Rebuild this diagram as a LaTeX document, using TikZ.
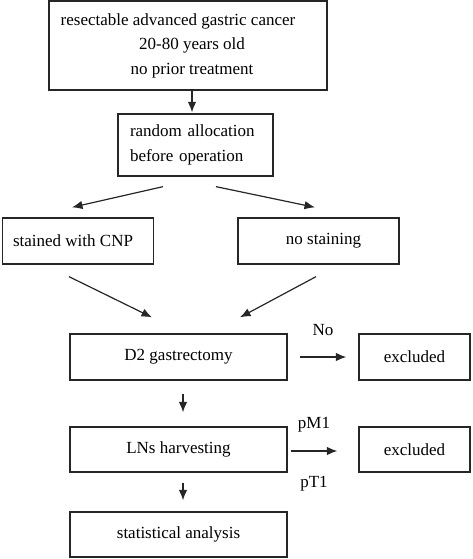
\documentclass[tikz,border=0pt]{standalone}
\usepackage{fontspec}
\setmainfont{Liberation Serif}
\usetikzlibrary{arrows.meta,positioning}

\begin{document}
\begin{tikzpicture}[x=1pt,y=-1pt,
    box/.style={draw=black!85,line width=1.3pt,inner sep=0pt,font=\fontsize{17}{24.5}\selectfont},
    lbl/.style={inner sep=0pt,font=\fontsize{17}{20}\selectfont},
    arr/.style={draw=black!85,line width=1.2pt,-{Latex[length=10.5pt,width=8.5pt]}}]
    \useasboundingbox (0,0) rectangle (472,559);

    % boxes
    \node[box,minimum width=278pt,minimum height=89pt,align=center] (patients) at (188,45.5)
        {resectable advanced gastric cancer\hspace*{20pt}\\\hspace*{8pt}20-80 years old\\\hspace*{8pt}no prior treatment};
    \node[box,minimum width=155pt,minimum height=62pt,align=left,text width=131pt] (alloc) at (195.5,145)
        {random allocation\\before operation};
    \node[box,minimum width=151pt,minimum height=46pt] (cnp) at (78,241) {stained with CNP\hspace*{10pt}};
    \node[box,minimum width=161pt,minimum height=46pt] (nostain) at (318.5,241) {\hspace*{10pt}no staining};
    \node[box,minimum width=217pt,minimum height=46pt] (gastrect) at (178.5,357) {D2 gastrectomy};
    \node[box,minimum width=111pt,minimum height=46pt] (exclA) at (414.5,357) {excluded};
    \node[box,minimum width=217pt,minimum height=45pt] (harvest) at (178.5,449.5) {LNs harvesting};
    \node[box,minimum width=111pt,minimum height=45pt] (exclB) at (414.5,449.5) {excluded};
    \node[box,minimum width=217pt,minimum height=45pt] (stats) at (178.5,534.5) {statistical analysis};

    % connectors
    \draw[arr] ([shift={(4,0)}]patients.south) -- ([shift={(-3.5,-1)}]alloc.north);
    \draw[arr] ([shift={(-32.5,10)}]alloc.south) -- ([shift={(-6,-10)}]cnp.north);
    \draw[arr] ([shift={(20.5,10)}]alloc.south) -- ([shift={(-3.5,-10)}]nostain.north);
    \draw[arr] ([shift={(-9,12)}]cnp.south) -- ([shift={(-26.5,-16)}]gastrect.north);
    \draw[arr] ([shift={(-2.5,12)}]nostain.south) -- ([shift={(61.5,-16)}]gastrect.north);
    \draw[arr] ([shift={(12,0)}]gastrect.east) -- ([shift={(-12,0)}]exclA.west)
        node[lbl,midway,above=21pt] (no) {No};
    \draw[arr] ([shift={(4.5,13)}]gastrect.south) -- ([shift={(4.5,-14)}]harvest.north);
    \draw[arr] ([shift={(3,1.5)}]harvest.east) -- ([shift={(-21,1.5)}]exclB.west)
        node[lbl,midway,above=18pt] (pmone) {pM1}
        node[lbl,midway,below=25pt] (ptone) {pT1};
    \draw[arr] ([shift={(4.5,10)}]harvest.south) -- ([shift={(4.5,-11)}]stats.north);
\end{tikzpicture}
\end{document}
